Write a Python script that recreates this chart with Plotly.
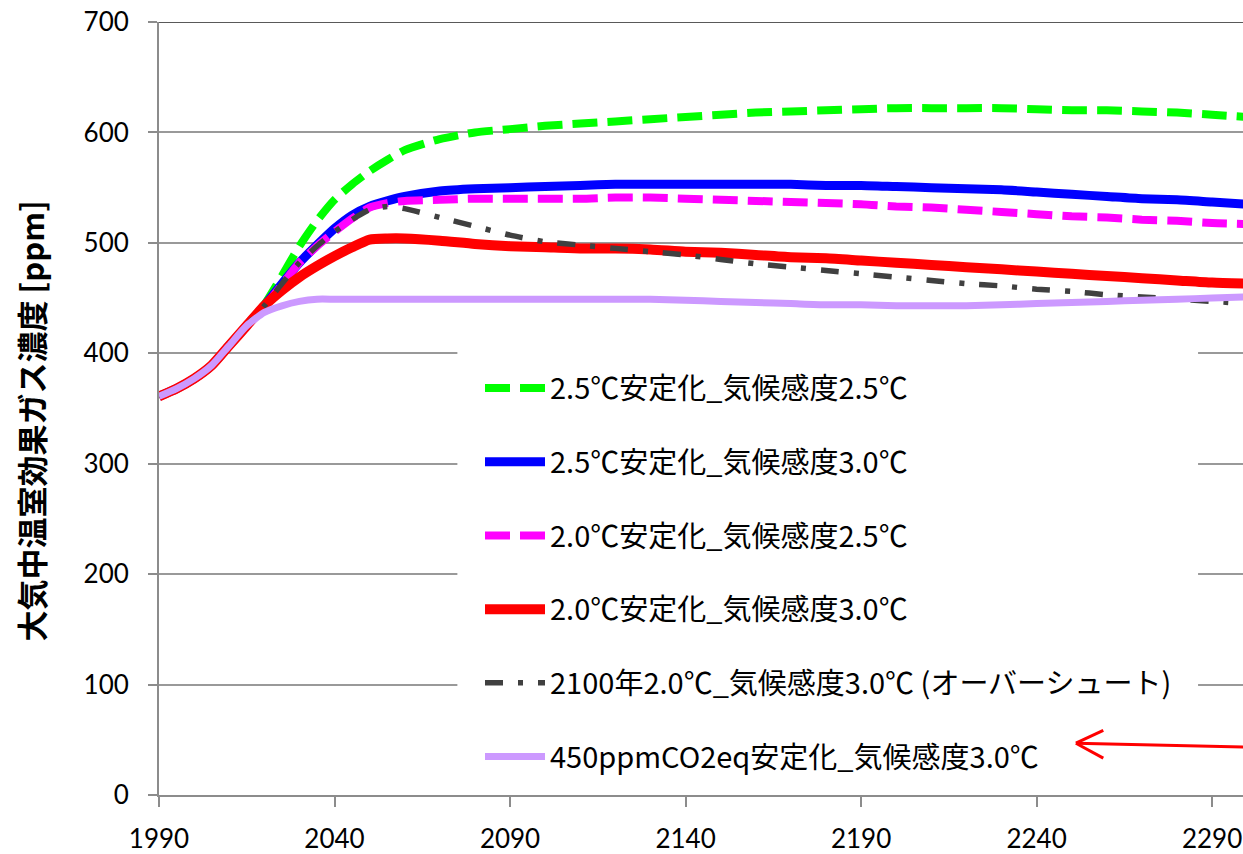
import plotly.graph_objects as go

# Years at which each scenario is sampled
years = [1990, 1995, 2000, 2005, 2010, 2015, 2020, 2025, 2030, 2035, 2040, 2045,
         2050, 2055, 2060, 2070, 2080, 2090, 2100, 2110, 2120, 2130, 2140, 2150,
         2160, 2170, 2180, 2190, 2200, 2210, 2220, 2230, 2240, 2250, 2260, 2270,
         2280, 2290, 2300]

# Shared historical part (1990-2015)
hist = [361, 368, 377, 389, 407, 425]

# Atmospheric GHG concentration [ppm] per scenario (from 2020 onward)
s25_cs25 = [444, 470, 497, 520, 539, 553, 565, 575, 584, 594, 600, 603, 606, 608,
            610, 612, 614, 616, 618, 619, 620, 621, 622, 622, 622, 622, 621, 620,
            620, 619, 618, 616, 614]
s25_cs30 = [443, 463, 482, 498, 513, 525, 533, 538, 542, 547, 549, 550, 551, 552,
            553, 553, 553, 553, 553, 553, 552, 552, 551, 550, 549, 548, 546, 544,
            542, 540, 539, 537, 535]
s20_cs25 = [442, 462, 482, 497, 510, 522, 532, 536, 538, 539, 540, 540, 540, 540,
            541, 541, 540, 539, 538, 537, 536, 535, 533, 532, 530, 528, 526, 524,
            523, 521, 520, 518, 517]
s20_cs30 = [443, 457, 469, 479, 488, 496, 503, 504, 504, 502, 499, 497, 496, 495,
            495, 494, 492, 491, 489, 487, 486, 484, 482, 480, 478, 476, 474, 472,
            470, 468, 466, 464, 463]
overshoot = [443, 463, 482, 497, 510, 521, 530, 533, 531, 523, 515, 507, 501, 498,
             495, 492, 489, 485, 481, 478, 475, 472, 469, 466, 463, 461, 458, 456,
             453, 451, 449, 447, 445]
s450 = [437, 443, 447, 449, 449, 449, 449, 449, 449, 449, 449, 449, 449, 449,
        449, 449, 448, 447, 446, 445, 444, 444, 443, 443, 443, 444, 445, 446,
        447, 448, 449, 450, 451]

names = [
    "2.5℃安定化_気候感度2.5℃",
    "2.5℃安定化_気候感度3.0℃",
    "2.0℃安定化_気候感度2.5℃",
    "2.0℃安定化_気候感度3.0℃",
    "2100年2.0℃_気候感度3.0℃ (オーバーシュート)",
    "450ppmCO2eq安定化_気候感度3.0℃",
]
series = [s25_cs25, s25_cs30, s20_cs25, s20_cs30, overshoot, s450]
colors = ["#00FF00", "#0000FF", "#FF00FF", "#FF0000", "#404040", "#CC99FF"]
widths = [8, 9, 8, 10, 5.5, 7]
dashes = ["25px,10px", "solid", "25px,10px", "solid", "18px,15px,5px,15px", "solid"]

x_ticks = [1990, 2040, 2090, 2140, 2190, 2240, 2290]

FONT = "Lato, 'Noto Sans CJK JP', sans-serif"
JP_FONT = "'Noto Sans CJK JP', sans-serif"

fig = go.Figure()
for i, (name, vals) in enumerate(zip(names, series)):
    fig.add_trace(go.Scatter(
        x=years, y=hist + vals, name=name, mode="lines",
        legendgroup=f"g{i}",
        line=dict(color=colors[i], width=widths[i], dash=dashes[i],
                  shape="spline", smoothing=0.6),
        hoverinfo="skip",
    ))

# plot-area geometry in pixels (used for layout-only decorations)
W, H = 1243, 854
L, T, B = 159, 22, 56
x_lo, x_hi = 1990, 2298.8
y_lo, y_hi = 0, 700

shapes = [
    # white panel behind the legend, hides gridlines
    dict(type="rect", xref="x", yref="y", x0=2075, x1=2286, y0=8, y1=415,
         fillcolor="white", line=dict(width=0), layer="between"),
    # dark top border at 700
    dict(type="line", xref="paper", yref="y", x0=0, x1=1, y0=700, y1=700,
         line=dict(color="#222222", width=1.5), layer="above"),
    # red arrow pointing at the 450ppm legend entry
    dict(type="line", xref="x", yref="y", x0=2300, y0=43.3, x1=2251.2, y1=46.9,
         line=dict(color="#FF0000", width=3)),
    dict(type="line", xref="x", yref="y", x0=2251.2, y0=46.9, x1=2259.0, y1=58.6,
         line=dict(color="#FF0000", width=3)),
    dict(type="line", xref="x", yref="y", x0=2251.2, y0=46.9, x1=2259.0, y1=33.4,
         line=dict(color="#FF0000", width=3)),
]

fig.update_layout(
    width=W, height=H,
    margin=dict(l=L, r=0, t=T, b=B, pad=0),
    paper_bgcolor="white", plot_bgcolor="white",
    font=dict(family=FONT, size=26, color="#000000"),
    showlegend=True,
    legend=dict(
        x=(480 - L) / (W - L), xanchor="left",
        y=(H - B - 364) / (H - B - T), yanchor="top",
        bgcolor="rgba(0,0,0,0)", borderwidth=0,
        font=dict(family=JP_FONT, size=29, color="#000000"),
        itemwidth=60, tracegroupgap=33,
        traceorder="grouped",
    ),
    xaxis=dict(
        range=[x_lo, x_hi], tickmode="array", tickvals=x_ticks,
        ticktext=[str(v) for v in x_ticks],
        showgrid=False, zeroline=False,
        showline=True, linecolor="#8C8C8C", linewidth=2,
        ticks="outside", ticklen=10, tickwidth=1.5, tickcolor="#8C8C8C",
        ticklabelstandoff=10,
        tickfont=dict(family=FONT, size=26, color="#000000"),
    ),
    yaxis=dict(
        range=[y_lo, y_hi], dtick=100, tick0=0,
        showgrid=True, gridcolor="#999999", gridwidth=1.5,
        zeroline=False,
        showline=True, linecolor="#8C8C8C", linewidth=2,
        ticks="outside", ticklen=9, tickwidth=1.5, tickcolor="#8C8C8C",
        ticklabelstandoff=14,
        tickfont=dict(family=FONT, size=26, color="#000000"),
    ),
    shapes=shapes,
    annotations=[dict(
        text="<b>大気中温室効果ガス濃度 [ppm]</b>",
        xref="paper", yref="paper",
        x=(30 - L) / (W - L), y=(H - B - 423) / (H - B - T),
        xanchor="center", yanchor="middle", textangle=-90, showarrow=False,
        font=dict(family=JP_FONT, size=31, color="#000000"),
    )],
)

fig.write_html("out.html")
